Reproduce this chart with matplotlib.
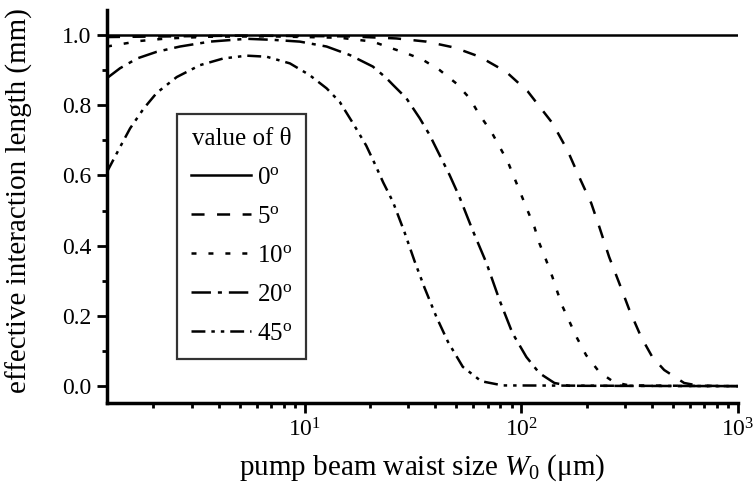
import matplotlib
matplotlib.use("Agg")
import matplotlib.pyplot as plt
from matplotlib.ticker import MultipleLocator, FixedLocator, NullFormatter, FormatStrFormatter

# ---- values (W0 in um, L_eff in mm) ----
theta_labels = ["0", "5", "10", "20", "45"]

w_0 = [1.22, 1000]
l_0 = [1.0, 1.0]

w_5 = [1.22, 5.0, 16.0, 26.5, 36.4, 49.1, 64.1, 85.0, 107, 139, 163, 185, 210,
       229, 254, 283, 315, 357, 402, 456, 564, 661, 1000]
l_5 = [0.994, 0.998, 0.996, 0.990, 0.981, 0.964, 0.938, 0.895, 0.839, 0.749, 0.672,
       0.595, 0.521, 0.453, 0.368, 0.293, 0.217, 0.140, 0.083, 0.046, 0.009, 0.001, 0.0]

w_10 = [1.22, 1.36, 1.74, 2.31, 3.65, 6.90, 14.5, 20.6, 24.6, 29.4, 35.1, 41.9, 50.0,
        57.6, 64.1, 72.5, 79.2, 86.5, 92.9, 106.6, 114.8, 121, 130, 139, 146.6, 154.5,
        170, 181, 199, 229, 268, 315, 1000]
l_10 = [0.967, 0.972, 0.983, 0.990, 0.995, 0.996, 0.992, 0.981, 0.964, 0.948, 0.929,
        0.900, 0.862, 0.820, 0.772, 0.725, 0.682, 0.639, 0.592, 0.501, 0.453, 0.407,
        0.359, 0.311, 0.268, 0.228, 0.172, 0.136, 0.088, 0.040, 0.011, 0.002, 0.0]

w_20 = [1.22, 1.40, 1.68, 2.07, 2.65, 3.65, 5.39, 7.14, 9.48, 12.6, 16.1, 20.6, 23.8,
        25.5, 29.4, 33.9, 37.7, 41.9, 46.6, 51.8, 59.5, 69.0, 79.2, 90.9, 105.4, 121,
        142, 166, 1000]
l_20 = [0.877, 0.905, 0.933, 0.952, 0.967, 0.981, 0.989, 0.986, 0.981, 0.967, 0.943,
        0.910, 0.877, 0.858, 0.820, 0.763, 0.715, 0.658, 0.601, 0.538, 0.444, 0.350,
        0.245, 0.151, 0.083, 0.037, 0.009, 0.001, 0.0]

w_45 = [1.22, 1.40, 1.56, 1.80, 2.07, 2.56, 3.28, 4.20, 5.39, 6.66, 8.53, 10.5, 12.6,
        14.5, 16.7, 19.2, 21.0, 23.0, 25.5, 28.9, 32.1, 35.7, 40.5, 45.8, 53.6, 65.2,
        82.0, 1000]
l_45 = [0.610, 0.680, 0.734, 0.790, 0.835, 0.880, 0.914, 0.933, 0.941, 0.938, 0.919,
        0.886, 0.848, 0.809, 0.748, 0.685, 0.634, 0.580, 0.525, 0.437, 0.356, 0.280,
        0.197, 0.126, 0.055, 0.014, 0.002, 0.0]

x_major = [10, 100, 1000]
y_major = [0.0, 0.2, 0.4, 0.6, 0.8, 1.0]

plt.rcParams["font.family"] = ["Liberation Serif", "DejaVu Serif"]
plt.rcParams["mathtext.fontset"] = "custom"
plt.rcParams["mathtext.rm"] = "Liberation Serif"
plt.rcParams["mathtext.it"] = "Liberation Serif:italic"
plt.rcParams["lines.scale_dashes"] = False

# dash patterns in points
styles = [
    "-",
    (0, (9.4, 9.0)),
    (0, (3.6, 8.6)),
    (0, (14.0, 5.0, 2.9, 5.0)),
    (0, (10.0, 4.3, 2.5, 4.3, 2.5, 4.3)),
]
series = [(w_0, l_0), (w_5, l_5), (w_10, l_10), (w_20, l_20), (w_45, l_45)]

fig = plt.figure(figsize=(7.55, 4.88), dpi=100)
ax = fig.add_axes([0.1417, 0.1742, 0.8358, 0.8053])

for (w, l), ls, lab in zip(series, styles, theta_labels):
    ax.plot(w, l, color="black", lw=1.8, linestyle=ls,
            label=r"$%s^{\mathrm{o}}$" % lab)

ax.set_xscale("log")
ax.set_xlim(1.22, 1000)
ax.set_ylim(-0.048, 1.071)

ax.xaxis.set_major_locator(FixedLocator(x_major))
ax.xaxis.set_minor_formatter(NullFormatter())
ax.yaxis.set_major_locator(FixedLocator(y_major))
ax.yaxis.set_major_formatter(FormatStrFormatter("%.1f"))
ax.yaxis.set_minor_locator(MultipleLocator(0.1))

for side in ["top", "right"]:
    ax.spines[side].set_visible(False)
for side in ["left", "bottom"]:
    ax.spines[side].set_linewidth(2.5)

ax.tick_params(which="major", direction="out", length=7, width=2, labelsize=17, pad=4)
ax.tick_params(which="minor", direction="out", length=3.5, width=2)

ax.set_xlabel(r"pump beam waist size $\mathit{W}_{\mathit{0}}$ (μm)", fontsize=21, labelpad=8)
ax.set_ylabel("effective interaction length (mm)", fontsize=21)
ax.yaxis.set_label_coords(-0.117, 0.515)

leg = ax.legend(title="value of θ", loc="upper left", bbox_to_anchor=(0.111, 0.735),
                borderaxespad=0, fontsize=18, title_fontsize=18, frameon=True,
                fancybox=False, edgecolor="black", handlelength=2.4,
                handletextpad=0.25, labelspacing=0.66, borderpad=0.55)
leg.get_frame().set_linewidth(1.6)

fig.savefig("out.png", dpi=100)
